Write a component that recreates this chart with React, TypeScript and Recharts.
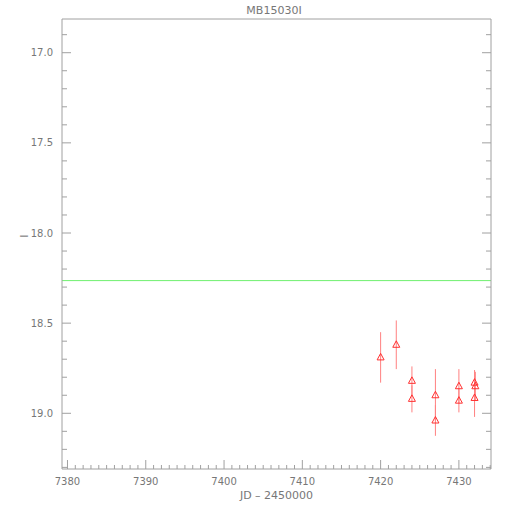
import { ComposedChart, Scatter, ErrorBar, XAxis, YAxis, ReferenceLine } from "recharts";

// observations (JD - 2450000, I mag, error)
const jd = [7420.0, 7422.0, 7424.0, 7424.0, 7427.0, 7427.0, 7430.0, 7430.0, 7432.0, 7432.1, 7432.0];
const mag = [18.69, 18.62, 18.82, 18.92, 18.9, 19.04, 18.85, 18.93, 18.83, 18.85, 18.915];
const magErr = [0.14, 0.135, 0.08, 0.075, 0.145, 0.085, 0.095, 0.065, 0.07, 0.08, 0.105];

const baseline = 18.264;

const xMajorTicks = [7380, 7390, 7400, 7410, 7420, 7430];
const yMajorTicks = [17.0, 17.5, 18.0, 18.5, 19.0];
const xDomain = [7379.3, 7434.1];
const yDomain = [16.813, 19.309];

const points = jd.map((d, i) => ({ jd: d, mag: mag[i], err: magErr[i] }));

// minor ticks every 1 day / 0.1 mag
const xTicks: number[] = [];
for (let v = 7380; v <= 7434; v++) xTicks.push(v);
const yTicks: number[] = [];
for (let k = 169; k <= 193; k++) yTicks.push(k / 10);

// plot frame in page pixels
const LEFT = 62;
const RIGHT = 491;
const TOP = 19;
const BOTTOM = 469;

const isMajor = (v: number, majors: number[]) => majors.some((m) => Math.abs(m - v) < 1e-6);

const AXIS = "#a0a0a0";
const TEXT = "#777";
const FONT = "DejaVu Sans, sans-serif";

const BottomTick = ({ x, payload }: any) => {
    const major = isMajor(payload.value, xMajorTicks);
    return (
        <g>
            <line x1={x} x2={x} y1={BOTTOM} y2={BOTTOM - (major ? 9 : 4)} stroke={AXIS} />
            {major && (
                <text x={x} y={BOTTOM + 16} textAnchor="middle" fontSize={10} fill={TEXT} fontFamily={FONT}>
                    {payload.value}
                </text>
            )}
        </g>
    );
};

const TopTick = ({ x, payload }: any) => {
    const major = isMajor(payload.value, xMajorTicks);
    return <line x1={x} x2={x} y1={TOP} y2={TOP + (major ? 9 : 4)} stroke={AXIS} />;
};

const LeftTick = ({ y, payload }: any) => {
    const major = isMajor(payload.value, yMajorTicks);
    return (
        <g>
            <line x1={LEFT} x2={LEFT + (major ? 9 : 5)} y1={y} y2={y} stroke={AXIS} />
            {major && (
                <text x={LEFT - 9} y={y} dy="0.35em" textAnchor="end" fontSize={10} fill={TEXT} fontFamily={FONT}>
                    {payload.value.toFixed(1)}
                </text>
            )}
        </g>
    );
};

const RightTick = ({ y, payload }: any) => {
    const major = isMajor(payload.value, yMajorTicks);
    return <line x1={RIGHT} x2={RIGHT - (major ? 9 : 5)} y1={y} y2={y} stroke={AXIS} />;
};

const Triangle = ({ cx, cy }: any) => (
    <polygon
        points={`${cx},${cy - 4} ${cx - 3.5},${cy + 2.5} ${cx + 3.5},${cy + 2.5}`}
        fill="none"
        stroke="#ff3030"
        strokeWidth={1}
    />
);

export default function App() {
    return (
        <div style={{ position: "absolute", left: 0, top: 0, width: 510, height: 510, background: "#fff" }}>
            <ComposedChart width={510} height={510} margin={{ top: 18, right: 18, bottom: 0, left: 0 }}>
                <XAxis
                    xAxisId="bottom"
                    dataKey="jd"
                    type="number"
                    domain={xDomain}
                    allowDataOverflow
                    ticks={xTicks}
                    interval={0}
                    height={41}
                    tickSize={0}
                    tickMargin={0}
                    tick={<BottomTick />}
                    axisLine={{ stroke: AXIS }}
                    label={{
                        content: () => (
                            <text x={276.5} y={499} textAnchor="middle" fontSize={11} fill={TEXT} fontFamily={FONT}>
                                JD  –  2450000
                            </text>
                        ),
                    }}
                />
                <XAxis
                    xAxisId="top"
                    orientation="top"
                    type="number"
                    domain={xDomain}
                    allowDataOverflow
                    ticks={xTicks}
                    interval={0}
                    height={1}
                    tickSize={0}
                    tickMargin={0}
                    tick={<TopTick />}
                    axisLine={false}
                    label={{
                        content: () => (
                            <text x={274} y={14} textAnchor="middle" fontSize={11} fill={TEXT} fontFamily={FONT}>
                                MB15030I
                            </text>
                        ),
                    }}
                />
                <YAxis
                    yAxisId="left"
                    type="number"
                    domain={yDomain}
                    reversed
                    allowDataOverflow
                    ticks={yTicks}
                    interval={0}
                    width={62}
                    tickSize={0}
                    tickMargin={0}
                    tick={<LeftTick />}
                    axisLine={{ stroke: AXIS }}
                    label={{
                        content: () => (
                            <text
                                x={24}
                                y={236}
                                transform="rotate(-90, 24, 236)"
                                textAnchor="middle"
                                dy="0.35em"
                                fontSize={11}
                                fill={TEXT}
                                fontFamily={FONT}
                            >
                                I
                            </text>
                        ),
                    }}
                />
                <YAxis
                    yAxisId="right"
                    orientation="right"
                    type="number"
                    domain={yDomain}
                    reversed
                    allowDataOverflow
                    ticks={yTicks}
                    interval={0}
                    width={1}
                    tickSize={0}
                    tickMargin={0}
                    tick={<RightTick />}
                    axisLine={false}
                />
                <ReferenceLine xAxisId="bottom" yAxisId="left" y={baseline} stroke="#70f070" strokeWidth={1} />
                <ReferenceLine xAxisId="bottom" yAxisId="left" y={yDomain[0]} stroke={AXIS} />
                <ReferenceLine xAxisId="bottom" yAxisId="left" x={xDomain[1]} stroke={AXIS} />
                <Scatter
                    xAxisId="bottom"
                    yAxisId="left"
                    data={points}
                    dataKey="mag"
                    shape={<Triangle />}
                    isAnimationActive={false}
                >
                    <ErrorBar dataKey="err" direction="y" width={0} stroke="#ff8080" strokeWidth={1} isAnimationActive={false} />
                </Scatter>
            </ComposedChart>
        </div>
    );
}
